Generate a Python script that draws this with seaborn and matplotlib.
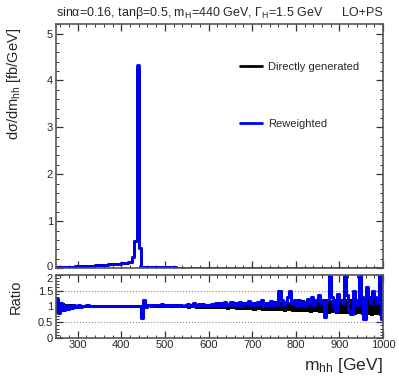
import numpy as np
import pandas as pd
import matplotlib
matplotlib.use("Agg")
import matplotlib.pyplot as plt
import matplotlib.transforms as mtransforms
from matplotlib.ticker import MultipleLocator, FormatStrFormatter
import seaborn as sns

# binning: 5 GeV bins from 250 to 1000 GeV
bin_lo, bin_hi, bin_w = 250, 1000, 5

# dsigma/dm_hh [fb/GeV], reweighted sample, one value per 5 GeV bin
xsec_rew = [
    0.020, 0.020, 0.020, 0.025, 0.025, 0.025, 0.030, 0.030, 0.030, 0.035,
    0.035, 0.040, 0.040, 0.045, 0.045, 0.050, 0.050, 0.055, 0.060, 0.060,
    0.065, 0.070, 0.070, 0.075, 0.080, 0.080, 0.085, 0.090, 0.090, 0.095,
    0.100, 0.100, 0.110, 0.120, 0.130, 0.240, 0.570, 4.330, 0.430, 0.020,
    0.020, 0.019, 0.019, 0.018, 0.018, 0.017, 0.017, 0.016, 0.016, 0.015,
    0.015, 0.014, 0.014, 0.013, 0.013, 0.012, 0.012, 0.012, 0.011, 0.011,
    0.011, 0.010, 0.010, 0.010, 0.009, 0.009, 0.009, 0.009, 0.008, 0.008,
    0.008, 0.008, 0.007, 0.007, 0.007, 0.007, 0.007, 0.006, 0.006, 0.006,
    0.006, 0.006, 0.005, 0.005, 0.005, 0.005, 0.005, 0.005, 0.005, 0.004,
    0.004, 0.004, 0.004, 0.004, 0.004, 0.004, 0.004, 0.003, 0.003, 0.003,
    0.003, 0.003, 0.003, 0.003, 0.003, 0.003, 0.003, 0.003, 0.002, 0.002,
    0.002, 0.002, 0.002, 0.002, 0.002, 0.002, 0.002, 0.002, 0.002, 0.002,
    0.002, 0.002, 0.002, 0.002, 0.002, 0.002, 0.002, 0.002, 0.001, 0.001,
    0.001, 0.001, 0.001, 0.001, 0.001, 0.001, 0.001, 0.001, 0.001, 0.001,
    0.001, 0.001, 0.001, 0.001, 0.001, 0.001, 0.001, 0.001, 0.001, 0.001,
]

# ratio reweighted / directly generated, per 5 GeV bin
ratio_rew = [
    1.25, 0.78, 1.10, 0.90, 1.05, 0.93, 1.02, 0.96, 1.04, 0.97,
    1.03, 0.98, 1.02, 1.00, 1.03, 1.00, 1.02, 1.01, 1.00, 1.01,
    1.00, 1.01, 1.00, 1.00, 1.01, 1.00, 1.00, 1.00, 1.00, 1.00,
    1.00, 1.00, 1.00, 1.00, 1.00, 1.00, 1.00, 1.02, 1.00, 0.62,
    1.20, 0.98, 1.05, 1.02, 1.06, 1.00, 1.05, 1.03, 1.07, 1.02,
    1.04, 1.00, 1.03, 1.05, 1.01, 1.04, 1.02, 1.06, 1.00, 1.05,
    1.08, 1.03, 1.06, 1.10, 1.02, 1.07, 1.04, 1.09, 1.00, 1.06,
    1.02, 1.08, 1.04, 1.12, 1.05, 1.10, 1.00, 1.13, 1.06, 1.09,
    1.14, 1.03, 1.10, 1.06, 1.15, 1.02, 1.12, 1.08, 1.16, 1.05,
    1.10, 1.04, 1.14, 1.08, 1.20, 1.02, 1.12, 1.06, 1.18, 1.04,
    1.10, 1.05, 1.50, 1.20, 1.05, 1.15, 1.30, 1.50, 1.08, 1.20,
    1.00, 1.20, 1.05, 1.15, 1.00, 1.25, 1.10, 1.30, 1.05, 1.20,
    1.35, 1.10, 1.20, 0.65, 1.20, 1.95, 1.30, 1.00, 0.85, 1.40,
    1.20, 1.10, 1.95, 1.35, 0.90, 0.75, 1.50, 1.20, 1.05, 1.95,
    1.30, 0.60, 1.60, 1.30, 1.10, 1.50, 1.30, 1.10, 1.95, 0.60,
]

# stat. band of directly generated sample (ratio panel), per 10 GeV
band_lo = [
    0.80, 0.88, 0.92, 0.93, 0.94,
    0.95, 0.96, 0.96, 0.97, 0.96, 0.97, 0.97, 0.98, 0.97, 0.98,
    0.98, 0.97, 0.98, 0.98, 0.97, 0.96, 0.97, 0.96, 0.96, 0.95,
    0.96, 0.95, 0.94, 0.95, 0.94, 0.93, 0.94, 0.93, 0.92, 0.93,
    0.92, 0.93, 0.91, 0.92, 0.90, 0.91, 0.89, 0.90, 0.88, 0.89,
    0.87, 0.88, 0.86, 0.87, 0.85, 0.84, 0.86, 0.83, 0.85, 0.82,
    0.83, 0.81, 0.82, 0.80, 0.81, 0.78, 0.80, 0.77, 0.79, 0.76,
    0.77, 0.75, 0.76, 0.74, 0.75, 0.72, 0.74, 0.71, 0.73, 0.70,
]
band_hi = [
    1.22, 1.12, 1.08, 1.07, 1.06,
    1.05, 1.04, 1.04, 1.03, 1.04, 1.03, 1.03, 1.02, 1.03, 1.02,
    1.02, 1.03, 1.02, 1.02, 1.03, 1.04, 1.03, 1.04, 1.04, 1.05,
    1.04, 1.05, 1.06, 1.05, 1.06, 1.07, 1.06, 1.07, 1.08, 1.07,
    1.08, 1.07, 1.09, 1.08, 1.10, 1.09, 1.11, 1.10, 1.12, 1.11,
    1.13, 1.12, 1.14, 1.13, 1.15, 1.16, 1.14, 1.17, 1.15, 1.18,
    1.17, 1.19, 1.18, 1.20, 1.19, 1.22, 1.20, 1.23, 1.21, 1.24,
    1.23, 1.25, 1.24, 1.26, 1.25, 1.28, 1.26, 1.29, 1.27, 1.30,
]

title_left = r"sin$\alpha$=0.16, tan$\beta$=0.5, m$_{\rm H}$=440 GeV, $\Gamma_{\rm H}$=1.5 GeV"
title_right = "LO+PS"

edges = np.arange(bin_lo, bin_hi + bin_w, bin_w)
edges10 = np.arange(bin_lo, bin_hi + 10, 10)
xsec_direct = [v / r for v, r in zip(xsec_rew, ratio_rew)]


def steps(vals, e):
    return pd.DataFrame({"x": e, "y": list(vals) + [vals[-1]]})


sns.set_style("ticks")
plt.rcParams["font.family"] = ["Liberation Sans", "DejaVu Sans"]
plt.rcParams["mathtext.fontset"] = "custom"
plt.rcParams["mathtext.rm"] = "Liberation Sans"
plt.rcParams["mathtext.it"] = "Liberation Sans"

BLUE = "#0000f0"

fig = plt.figure(figsize=(3.99, 3.83), dpi=100)
ax = fig.add_axes([0.140, 0.300, 0.820, 0.637])
axr = fig.add_axes([0.140, 0.1175, 0.820, 0.165])

# main panel
sns.lineplot(data=steps(xsec_direct, edges), x="x", y="y", ax=ax,
             drawstyle="steps-post", color="black", lw=2.0, label="Directly generated")
sns.lineplot(data=steps(xsec_rew, edges), x="x", y="y", ax=ax,
             drawstyle="steps-post", color=BLUE, lw=2.0, label="Reweighted")
ax.set_xlim(bin_lo, bin_hi)
ax.set_ylim(0, 5.2)
ax.set_xlabel("")
ax.set_ylabel(r"d$\sigma$/dm$_{\rm hh}$ [fb/GeV]", fontsize=10.5, loc="top")
ax.yaxis.set_label_coords(-0.10, 0.985)
ax.tick_params(labelbottom=False)
ax.yaxis.set_major_locator(MultipleLocator(1))
ax.yaxis.set_minor_locator(MultipleLocator(0.2))
leg = ax.legend(loc="upper left", bbox_to_anchor=(0.563, 0.845), frameon=False,
                fontsize=8, handlelength=2.0, handletextpad=0.5,
                labelspacing=4.2, borderpad=0, borderaxespad=0)

fig.text(0.140, 0.966, title_left, fontsize=9, ha="left", va="center")
fig.text(0.960, 0.966, title_right, fontsize=9, ha="right", va="center")

# ratio panel
for yv in (0.5, 1.0, 1.5):
    axr.axhline(yv, color="#888888", ls=":", lw=0.8, zorder=0)
axr.fill_between(edges10, list(band_lo) + [band_lo[-1]], list(band_hi) + [band_hi[-1]],
                 step="post", color="black", lw=0, zorder=1)
sns.lineplot(data=steps(ratio_rew, edges), x="x", y="y", ax=axr,
             drawstyle="steps-post", color=BLUE, lw=2.2, zorder=2)
axr.set_xlim(bin_lo, bin_hi)
axr.set_ylim(0, 2)
axr.yaxis.set_major_locator(MultipleLocator(0.5))
axr.yaxis.set_minor_locator(MultipleLocator(0.1))
axr.yaxis.set_major_formatter(FormatStrFormatter("%g"))
axr.set_ylabel("Ratio", fontsize=10.5, loc="top")
axr.yaxis.set_label_coords(-0.10, 0.93)
axr.set_xlabel(r"m$_{\rm hh}$ [GeV]", fontsize=12.5, loc="right")

for a in (ax, axr):
    a.xaxis.set_major_locator(MultipleLocator(100))
    a.xaxis.set_minor_locator(MultipleLocator(20))
    a.tick_params(which="both", direction="in", top=True, right=True,
                  labelsize=8, color="#333333", pad=2)
    a.tick_params(which="major", length=5, width=0.9)
    a.tick_params(which="minor", length=2.5, width=0.7)
    for s in a.spines.values():
        s.set_color("#555555")
        s.set_linewidth(1.2)
axr.tick_params(axis="x", pad=1.5)

# keep the "0" of the top panel and the "2" of the ratio panel apart
fig.canvas.draw()
for lab in ax.get_yticklabels():
    if lab.get_text() == "0":
        lab.set_transform(lab.get_transform() + mtransforms.ScaledTranslation(0, 2 / 100, fig.dpi_scale_trans))
for lab in axr.get_yticklabels():
    if lab.get_text() == "2":
        lab.set_transform(lab.get_transform() + mtransforms.ScaledTranslation(0, -3 / 100, fig.dpi_scale_trans))

fig.savefig("out.png", dpi=100)
